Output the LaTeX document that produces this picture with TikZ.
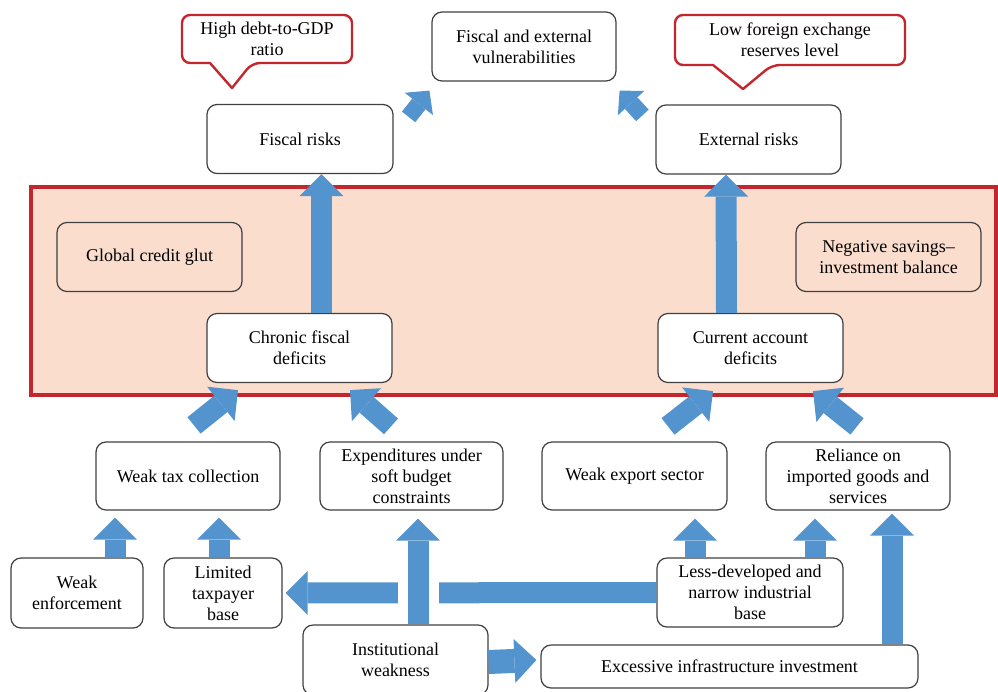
\documentclass[tikz,border=0pt]{standalone}
\usepackage{fontspec}
\setmainfont{Liberation Serif}
\usetikzlibrary{arrows.meta,calc}

\definecolor{arrowblue}{RGB}{84,148,206}
\definecolor{bandred}{RGB}{196,38,46}
\definecolor{peach}{RGB}{250,221,205}
\definecolor{boxgray}{RGB}{64,64,64}

\tikzset{
	box/.style={draw=boxgray, line width=1.2pt, rounded corners=10pt, fill=white, align=center,
		minimum width=185pt, minimum height=69pt, inner sep=2pt},
	inbox/.style={box, fill=none},
	notetext/.style={align=center, inner sep=2pt},
	noteline/.style={draw=bandred, line width=2.4pt, fill=white, line join=round},
	fat/.style={line width=21pt, arrowblue, -{Triangle[length=22pt,width=44pt,line width=0pt]}},
	thinfat/.style={line width=17pt, arrowblue, -{Triangle[length=17pt,width=36pt,line width=0pt]}}
}

\begin{document}
\begin{tikzpicture}[x=1pt,y=-1pt,font=\fontsize{18}{21}\selectfont]
	\useasboundingbox (0,0) rectangle (998,691);
	% the red band
	\draw [bandred, line width=4pt, fill=peach] (31,187) rectangle (996,395);

	% callouts
	\draw [noteline] (232,88) -- (210,63) [rounded corners=8pt] -- (182,63) -- (182,15) -- (352,15) -- (352,63) -- (252,63) [sharp corners] -- cycle;
	\node[notetext] (debt) at (267,39) {High debt-to-GDP\\ratio};
	\draw [noteline] (743,89) -- (713,65) [rounded corners=8pt] -- (675,65) -- (675,15) -- (905,15) -- (905,65) -- (772,65) [sharp corners] -- cycle;
	\node[notetext] (fx) at (790,40) {Low foreign exchange\\reserves level};

	% top row
	\node[box, minimum width=184pt] (fev) at (524,46.5) {Fiscal and external\\vulnerabilities};
	\node[box, minimum width=186pt] (fr) at (300,139) {Fiscal risks};
	\node[box] (er) at (748.5,139.5) {External risks};

	% inside the band
	\node[inbox] (gcg) at (149.5,257) {Global credit glut};
	\node[inbox] (nsib) at (888.5,257) {Negative savings--\\investment balance};
	\node[box] (cfd) at (299.5,348) {Chronic fiscal\\deficits};
	\node[box] (cad) at (750.5,348) {Current account\\deficits};

	% causes
	\node[box, minimum width=184pt, minimum height=68pt] (wtc) at (188,476) {Weak tax collection};
	\node[box, minimum width=183pt, minimum height=68pt] (esb) at (411.5,476) {Expenditures under\\soft budget\\constraints};
	\node[box, minimum height=68pt] (wes) at (634.5,476) {Weak export sector};
	\node[box, minimum width=184pt, minimum height=68pt] (ri) at (858,476) {Reliance on\\imported goods and\\services};

	% root causes
	\node[box, minimum width=132pt, minimum height=70pt] (we) at (77,593) {Weak\\enforcement};
	\node[box, minimum width=118pt, minimum height=70pt] (ltb) at (223,593) {Limited\\taxpayer\\base};
	\node[box, minimum width=186pt] (ldb) at (750,592.5) {Less-developed and\\narrow industrial\\base};
	\node[box, minimum height=70pt] (iw) at (395.5,660) {Institutional\\weakness};
	\node[box, minimum width=377pt, minimum height=43pt] (eii) at (729.5,666.5) {Excessive infrastructure investment};

	% arrows
	\draw [thinfat] ($(fr.north east)+(15,13)$) -- ($(fev.south west)+(-2,9)$);
	\draw [thinfat] ($(er.north west)+(-13,11)$) -- ($(fev.south east)+(3,9)$);
	\draw [fat] ($(cfd.north)+(22,0)$) -- ($(fr.south)+(21.5,0)$);
	\draw [fat] ($(cad.north)+(-24,0)$) -- ($(er.south)+(-22.5,0)$);
	\draw [fat] ($(wtc.north)+(6,-16)$) -- ($(cfd.south)+(-61.5,7)$);
	\draw [fat] ($(esb.north)+(-20.5,-15)$) -- ($(cfd.south)+(50.5,7)$);
	\draw [fat] ($(wes.north)+(33.5,-15)$) -- ($(cad.south)+(-37.5,8)$);
	\draw [fat] ($(ri.north)+(-1,-15)$) -- ($(cad.south)+(62.5,8)$);
	\draw [fat] ($(we.north)+(38,0)$) -- ($(wtc.south)+(-73,7)$);
	\draw [fat] ($(ltb.north)+(-4,0)$) -- ($(wtc.south)+(31,7)$);
	\draw [fat] (ldb.west) -- ($(ltb.east)+(3,0)$);
	\draw [fat, preaction={draw=white, line width=41pt}] ($(iw.north)+(22.5,0)$) -- ($(esb.south)+(6.5,8)$);
	\draw [fat] ($(ldb.north)+(-55,0)$) -- ($(wes.south)+(60.5,8)$);
	\draw [fat] ($(ldb.north)+(65,0)$) -- ($(ri.south)+(-43,8)$);
	\draw [fat] ($(eii.north)+(162.5,0)$) -- ($(ri.south)+(34,3)$);
	\draw [fat, line width=24pt] ($(iw.east)+(0,2)$) -- ($(eii.west)+(-4,-6.5)$);
\end{tikzpicture}
\end{document}
